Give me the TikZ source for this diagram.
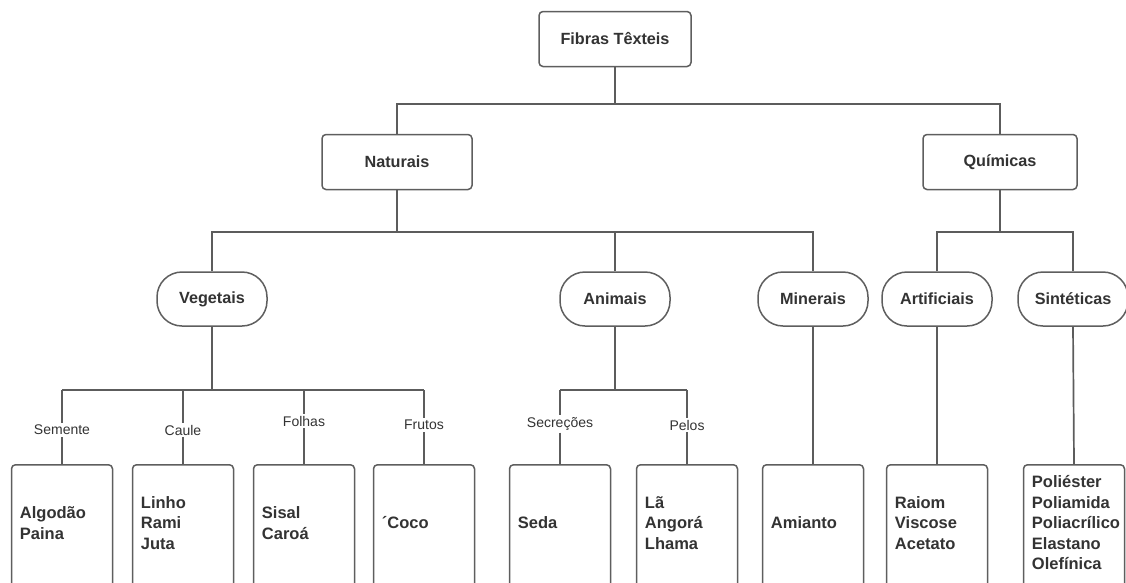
\documentclass[tikz,border=0pt]{standalone}
\usepackage{fontspec}
\setmainfont{Liberation Sans}
\definecolor{linegray}{HTML}{5C5C5C}
\definecolor{boxgray}{HTML}{5E5E5E}
\definecolor{txt}{HTML}{333333}
\tikzset{
  conn/.style={draw=linegray, line width=1.7pt},
  basebox/.style={draw=boxgray, line width=1.5pt, fill=white, text=txt,
    font=\bfseries\fontsize{16.2}{19}\selectfont},
  rectnode/.style={basebox, rounded corners=4pt, minimum height=55pt},
  pill/.style={basebox, rounded corners=25pt, minimum width=110pt, minimum height=54pt},
  leafbox/.style={draw=boxgray, line width=1.5pt, fill=white, rounded corners=4pt,
    minimum width=101pt, minimum height=200pt, anchor=north},
  leaftext/.style={anchor=west, align=left, inner sep=0pt, text=txt,
    font=\bfseries\fontsize{16.5}{20.5}\selectfont},
  lbl/.style={fill=white, inner sep=2pt, text=txt, font=\fontsize{14}{15}\selectfont},
}
\begin{document}
\begin{tikzpicture}[x=1pt, y=-1pt]
  \useasboundingbox (0,0) rectangle (1126,582);
  \clip (0,0) rectangle (1126,582);

  % bus levels
  \coordinate (b1) at (0,104);
  \coordinate (b2) at (0,232);
  \coordinate (b3) at (0,390);

  % top levels
  \node[rectnode, minimum width=152pt] (root) at (615,39) {Fibras Têxteis};
  \node[rectnode, minimum width=150pt] (nat) at (397,162) {Naturais};
  \node[rectnode, minimum width=154pt] (qui) at (1000,162) {Químicas};

  % categories
  \node[pill] (veg) at (212,299) {Vegetais};
  \node[pill] (ani) at (615,299) {Animais};
  \node[pill] (min) at (813,299) {Minerais};
  \node[pill] (art) at (937,299) {Artificiais};
  \node[pill] (sin) at (1073,299) {Sintéticas};

  % leaf boxes (run past the lower edge)
  \foreach \n/\x in {sem/62, cau/183, fol/304, fru/424, sec/560, pel/687, ami/813, ray/937, pol/1074}
    \node[leafbox] (\n) at (\x,464) {};

  % leaf contents
  \node[leaftext] (tsem) at ([xshift=9pt]sem.west |- 0,523) {Algodão\\Paina};
  \node[leaftext] (tcau) at ([xshift=9pt]cau.west |- 0,523) {Linho\\Rami\\Juta};
  \node[leaftext] (tfol) at ([xshift=9pt]fol.west |- 0,523) {Sisal\\Caroá};
  \node[leaftext] (tfru) at ([xshift=9pt]fru.west |- 0,523) {´Coco};
  \node[leaftext] (tsec) at ([xshift=9pt]sec.west |- 0,523) {Seda};
  \node[leaftext] (tpel) at ([xshift=9pt]pel.west |- 0,523) {Lã\\Angorá\\Lhama};
  \node[leaftext] (tami) at ([xshift=9pt]ami.west |- 0,523) {Amianto};
  \node[leaftext] (tray) at ([xshift=9pt]ray.west |- 0,523) {Raiom\\Viscose\\Acetato};
  \node[leaftext] (tpol) at ([xshift=9pt]pol.west |- 0,523) {Poliéster\\Poliamida\\Poliacrílico\\Elastano\\Olefínica};

  % branch labels
  \node[lbl] (lsem) at (62,430) {Semente};
  \node[lbl] (lcau) at (183,430) {Caule};
  \node[lbl] (lfol) at (304,421) {Folhas};
  \node[lbl] (lfru) at (424,425) {Frutos};
  \node[lbl] (lsec) at (560,424) {Secreções};
  \node[lbl] (lpel) at (687,425) {Pelos};

  % root to first level
  \draw[conn] (root.south) -- (root.south |- b1);
  \draw[conn] (nat.north) -- (nat.north |- b1) -- (qui.north |- b1) -- (qui.north);

  % Naturais branches
  \draw[conn] (nat.south) -- (nat.south |- b2);
  \draw[conn] (veg.north) -- (veg.north |- b2) -- (min.north |- b2) -- (min.north);
  \draw[conn] (ani.north) -- (ani.north |- b2);

  % Químicas branches
  \draw[conn] (qui.south) -- (qui.south |- b2);
  \draw[conn] (art.north) -- (art.north |- b2) -- (sin.north |- b2) -- (sin.north);

  % Vegetais branches
  \draw[conn] (veg.south) -- (veg.south |- b3);
  \draw[conn] (lsem |- b3) -- (lfru |- b3);
  \foreach \l/\b in {lsem/sem, lcau/cau, lfol/fol, lfru/fru}
    \draw[conn] (\l |- b3) -- (\l) -- (\b.north);

  % Animais branches
  \draw[conn] (ani.south) -- (ani.south |- b3);
  \draw[conn] (lsec |- b3) -- (lpel |- b3);
  \foreach \l/\b in {lsec/sec, lpel/pel}
    \draw[conn] (\l |- b3) -- (\l) -- (\b.north);

  % single descendants
  \draw[conn] (min.south) -- (ami.north);
  \draw[conn] (art.south) -- (ray.north);
  \draw[conn] (sin.south) -- (pol.north);
\end{tikzpicture}
\end{document}
